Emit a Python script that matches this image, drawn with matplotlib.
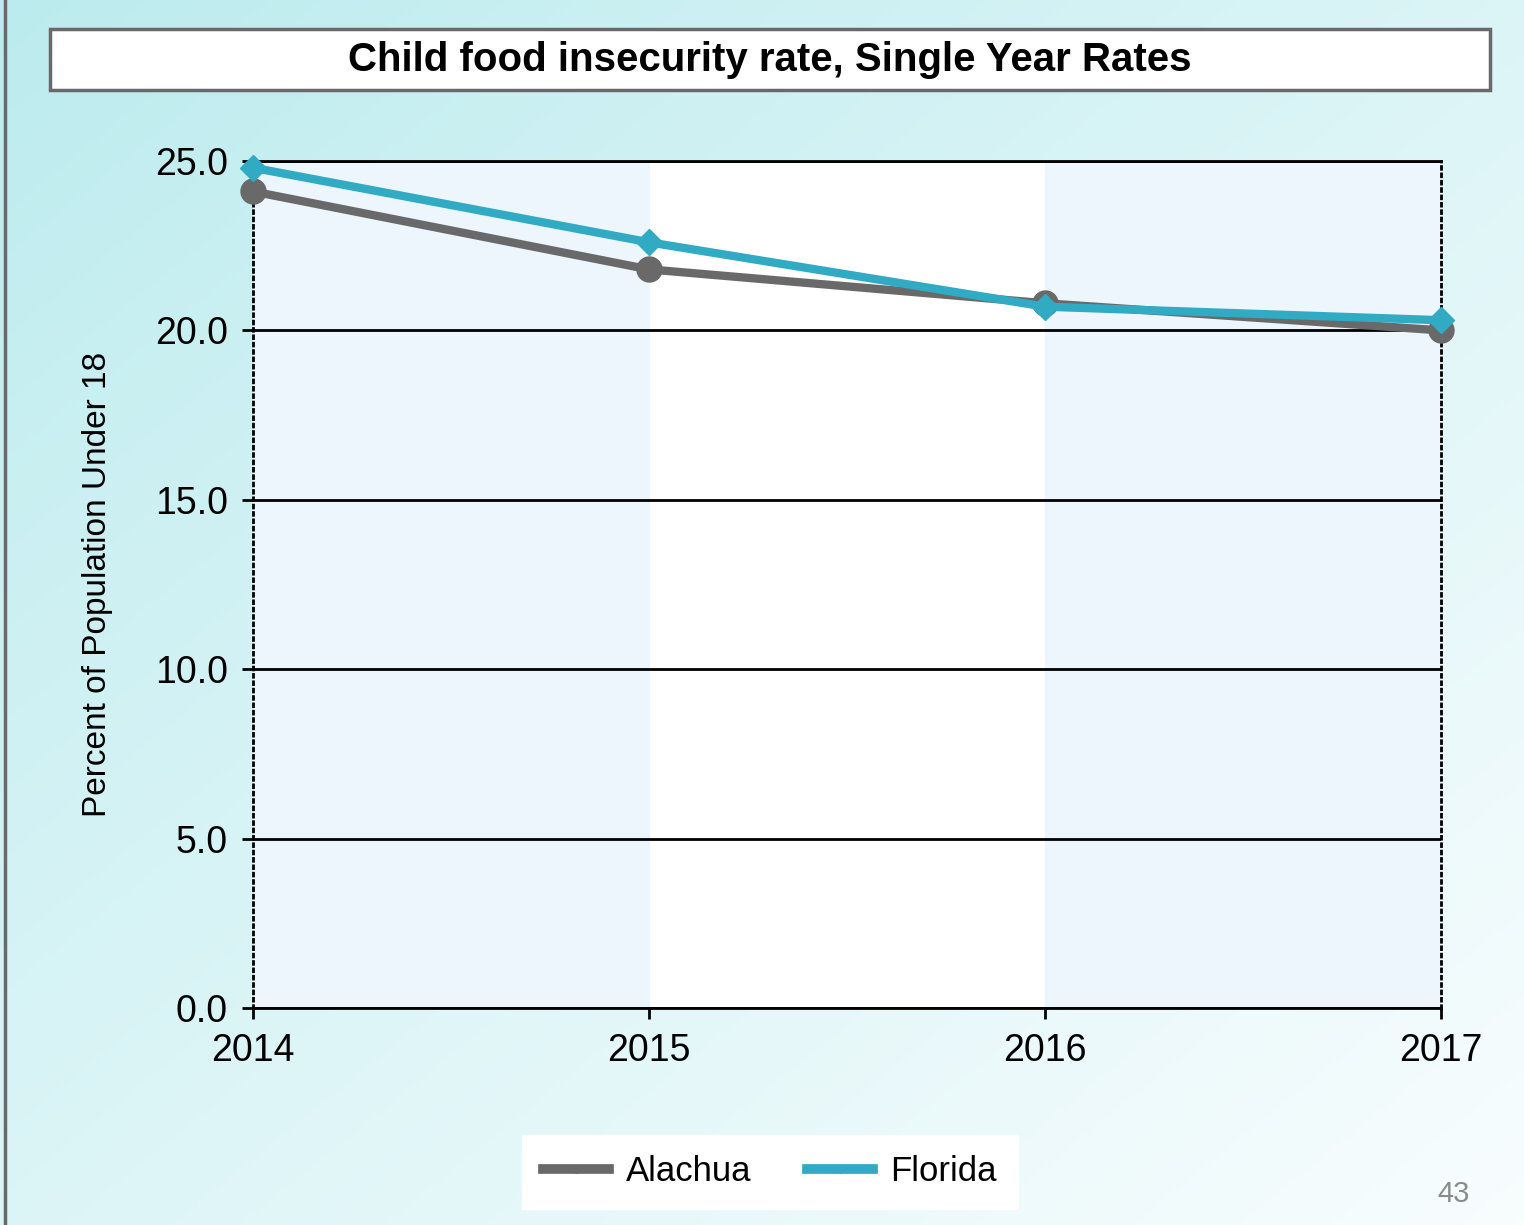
import numpy as np
import matplotlib.pyplot as plt
from matplotlib.patches import Rectangle
from matplotlib.lines import Line2D

years = [2014, 2015, 2016, 2017]
alachua = [24.1, 21.8, 20.8, 20.0]
florida = [24.8, 22.6, 20.7, 20.3]
yticks = [0, 5, 10, 15, 20, 25]

gray = '#696969'
teal = '#31aac3'
band = '#eef6fd'

plt.rcParams['font.family'] = ['Liberation Sans', 'DejaVu Sans']

fig = plt.figure(figsize=(15.24, 12.25), dpi=100)

# gradient background
bg = fig.add_axes([0, 0, 1, 1], zorder=-10)
gx, gy = np.meshgrid(np.linspace(0, 1, 200), np.linspace(0, 1, 200))
t = np.clip((gx + gy) / 2.0, 0, 1) ** 0.9
c0 = np.array([0xbb, 0xeb, 0xee]) / 255
c1 = np.array([0xf8, 0xfd, 0xfe]) / 255
img = c0[None, None, :] * (1 - t[..., None]) + c1[None, None, :] * t[..., None]
bg.imshow(img, extent=[0, 1, 0, 1], aspect='auto', origin='upper')
bg.set_xlim(0, 1)
bg.set_ylim(0, 1)
bg.axis('off')
bg.plot([0.003, 0.003], [0, 1], color=gray, lw=2.5)

# title box
fig.patches.append(Rectangle((0.0328, 0.9265), 0.9449, 0.0498, transform=fig.transFigure,
                             facecolor='white', edgecolor=gray, lw=2.5))
fig.text(0.505, 0.9514, 'Child food insecurity rate, Single Year Rates', ha='center', va='center',
         fontsize=29, fontweight='bold')

ax = fig.add_axes([0.166, 0.1771, 0.7795, 0.6915])
ax.set_facecolor('white')
ax.axvspan(2014, 2015, color=band, zorder=0)
ax.axvspan(2016, 2017, color=band, zorder=0)
for v in yticks:
    ax.axhline(v, color='black', lw=2, zorder=1)

ax.plot(years, alachua, color=gray, lw=6, marker='o', ms=18, zorder=3, clip_on=False)
ax.plot(years, florida, color=teal, lw=6, marker='D', ms=13, zorder=4, clip_on=False)

ax.set_xlim(2014, 2017)
ax.set_ylim(0, 25)
ax.set_xticks(years)
ax.set_xticklabels([str(y) for y in years])
ax.set_yticks(yticks)
ax.set_yticklabels(['%.1f' % v for v in yticks])
ax.tick_params(axis='both', labelsize=27, length=8, width=2, color='black')
ax.tick_params(axis='x', pad=10)
ax.tick_params(axis='y', pad=10)
ax.set_ylabel('Percent of Population Under 18', fontsize=24, labelpad=30)

ax.spines['left'].set_linestyle(':')
ax.spines['right'].set_linestyle(':')
for s in ['left', 'right', 'top', 'bottom']:
    ax.spines[s].set_linewidth(2)
    ax.spines[s].set_color('black')

handles = [Line2D([], [], color=gray, lw=7, marker='o', ms=5),
           Line2D([], [], color=teal, lw=7, marker='D', ms=4)]
leg = fig.legend(handles, ['Alachua', 'Florida'], loc='center', bbox_to_anchor=(0.5052, 0.0433),
                 ncol=2, fontsize=25, frameon=True, fancybox=False, handlelength=1.9,
                 handletextpad=0.5, columnspacing=1.6, borderpad=0.6, borderaxespad=0)
leg.get_frame().set_facecolor('white')
leg.get_frame().set_edgecolor('white')
leg.get_frame().set_alpha(1)

fig.text(0.9535, 0.025, '43', color='#8a8a8a', fontsize=21, ha='center', va='center')

fig.savefig('out.png', dpi=100)
